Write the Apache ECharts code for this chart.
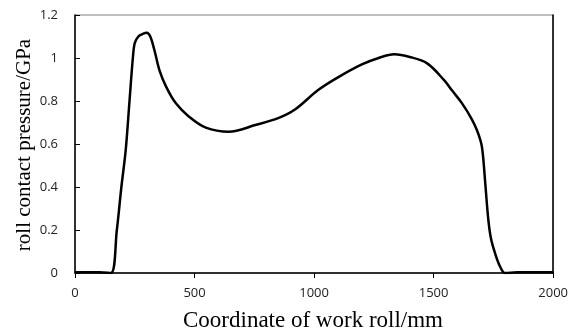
<!DOCTYPE html>
<html>
<head>
<meta charset="utf-8">
<script src="https://cdn.jsdelivr.net/npm/echarts@6/dist/echarts.min.js"></script>
<style>
  html, body { margin: 0; padding: 0; background: #fff; }
  #chart { width: 571px; height: 332px; }
</style>
</head>
<body>
<div id="chart"></div>
<script>
// coordinate along the work roll (mm)
const coordMm = [0, 100, 150, 175, 194, 212, 228, 242, 250, 265, 280, 300, 315, 332, 353, 381, 422, 477, 547, 643, 754, 850, 920, 1017, 1100, 1200, 1270, 1335, 1400, 1473, 1543, 1580, 1619, 1660, 1681, 1695, 1702, 1708, 1715, 1729, 1740, 1757, 1778, 1798, 1850, 2000];
// roll contact pressure (GPa)
const pressure = [0.003, 0.003, 0, 0.2, 0.4, 0.57, 0.8, 1.0, 1.07, 1.1, 1.11, 1.118, 1.1, 1.037, 0.944, 0.867, 0.789, 0.727, 0.676, 0.657, 0.688, 0.72, 0.76, 0.851, 0.91, 0.97, 1.0, 1.017, 1.005, 0.975, 0.898, 0.845, 0.789, 0.715, 0.665, 0.62, 0.587, 0.53, 0.433, 0.247, 0.16, 0.092, 0.03, 0, 0.003, 0.003];

const xTicks = [0, 500, 1000, 1500, 2000];
const yTicks = [0, 0.2, 0.4, 0.6, 0.8, 1, 1.2];

const tickFont = { color: '#222', fontSize: 13, fontFamily: 'Open Sans, sans-serif' };
const serif = 'Liberation Serif, Times New Roman, serif';

const chart = echarts.init(document.getElementById('chart'));
chart.setOption({
    animation: false,
    grid: {
        left: 75, right: 14, top: 15, bottom: 59,
        show: true, borderColor: '#808080', borderWidth: 1
    },
    graphic: [{
        type: 'text',
        left: 183, top: 309,
        style: { text: 'Coordinate of work roll/mm', font: '23px ' + serif, fill: '#000' }
    }, {
        type: 'text',
        x: 24, y: 145, rotation: Math.PI / 2,
        style: {
            text: 'roll contact pressure/GPa', font: '21px ' + serif, fill: '#000',
            align: 'center', verticalAlign: 'middle'
        }
    }],
    xAxis: {
        type: 'value', min: 0, max: 2000, interval: 500,
        axisLine: { show: true, lineStyle: { color: '#000', width: 1.5 } },
        axisTick: { show: true, inside: false, length: 5, lineStyle: { color: '#000' } },
        axisLabel: Object.assign({ margin: 14, formatter: v => xTicks.includes(v) ? String(v) : '' }, tickFont),
        splitLine: { show: false }
    },
    yAxis: [{
        type: 'value', min: 0, max: 1.2, interval: 0.2,
        axisLine: { show: true, lineStyle: { color: '#000', width: 1.5 } },
        axisTick: { show: true, inside: true, length: 5, lineStyle: { color: '#000' } },
        axisLabel: Object.assign({
            margin: 17,
            formatter: v => {
                const t = yTicks.find(k => Math.abs(k - v) < 1e-6);
                return t === undefined ? '' : String(t);
            }
        }, tickFont),
        splitLine: { show: false }
    }, {
        type: 'value', min: 0, max: 1.2, position: 'right',
        axisLine: { show: true, lineStyle: { color: '#000', width: 1.5 } },
        axisTick: { show: false }, axisLabel: { show: false }, splitLine: { show: false }
    }],
    series: [{
        type: 'line',
        data: coordMm.map((x, i) => [x, pressure[i]]),
        smooth: 0.35,
        symbol: 'none',
        lineStyle: { color: '#000', width: 2.5 }
    }]
});
</script>
</body>
</html>
